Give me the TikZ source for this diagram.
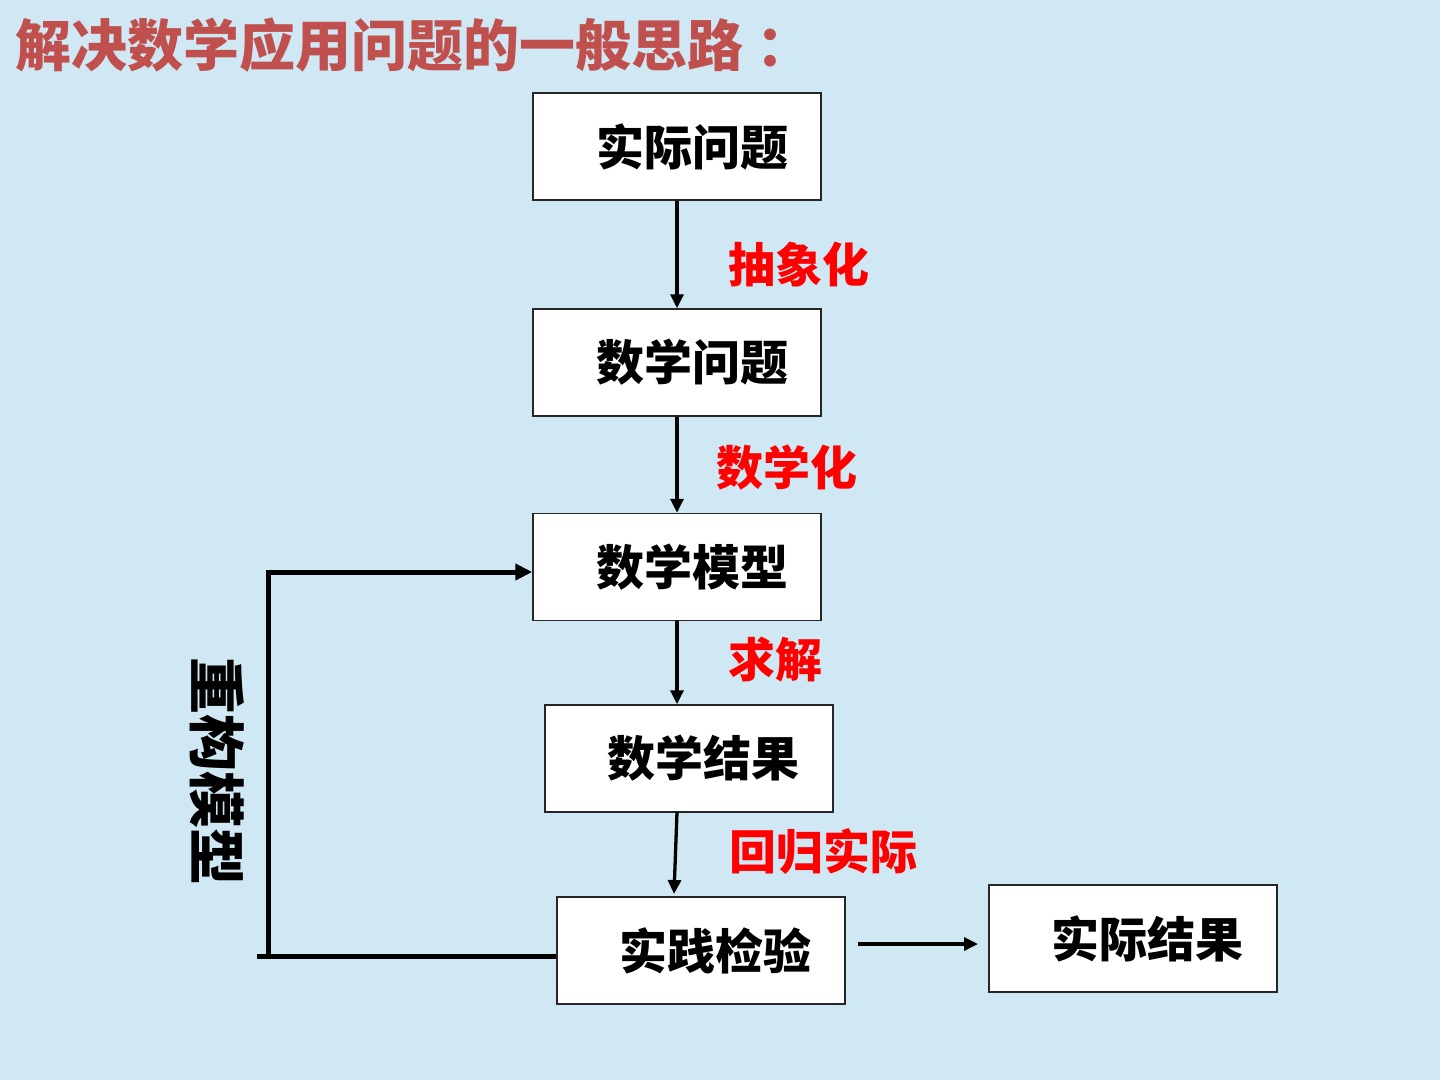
\documentclass[tikz,border=0pt]{standalone}
\usepackage{fontspec}
\newfontfamily\cjk{Noto Sans CJK SC}
\usetikzlibrary{arrows.meta}
\definecolor{bgblue}{RGB}{207,232,244}
\definecolor{titlered}{RGB}{192,80,77}
\definecolor{labelred}{RGB}{255,0,0}
\tikzset{
  box/.style={draw=black!85, line width=1.5pt, fill=white, minimum width=288pt, minimum height=107pt, inner sep=0pt, font=\cjk\bfseries\fontsize{48}{50}\selectfont},
  lbl/.style={text=labelred, inner sep=0pt, font=\cjk\bfseries\fontsize{47}{50}\selectfont},
  flow/.style={line width=3.3pt, -{Triangle[length=14pt,width=13pt]}},
  back/.style={line width=5pt},
}
\begin{document}
\begin{tikzpicture}[x=1pt,y=-1pt]
\fill[bgblue] (0,0) rectangle (1440,1080);
\useasboundingbox (0,0) rectangle (1440,1080);
\node[anchor=west, inner sep=0pt, text=titlered, font=\cjk\bfseries\fontsize{56}{58}\selectfont] (title) at (15,45) {解决数学应用问题的一般思路\hspace*{13pt}：};
\node[box] (a) at (677,146.5) {\hspace*{30pt}实际问题};
\node[box] (b) at (677,362.5) {\hspace*{30pt}数学问题};
\node[box] (c) at (677,567) {\hspace*{30pt}数学模型};
\node[box] (d) at (689,758.5) {\hspace*{28pt}数学结果};
\node[box] (e) at (701,950.5) {\hspace*{28pt}实践检验};
\node[box] (f) at (1133,938.5) {\hspace*{28pt}实际结果};
\node[lbl] (l1) at (799,265) {抽象化};
\node[lbl] (l2) at (787,468) {数学化};
\node[lbl] (l3) at (775,660) {求解};
\node[lbl] (l4) at (823,852) {回归实际};
\node[inner sep=0pt, rotate=-90, font=\cjk\bfseries\fontsize{57}{59}\selectfont] (rv) at (217,771) {重构模型};
\draw[flow] (a.south) -- (b.north);
\draw[flow] (b.south) -- (c.north);
\draw[flow] (c.south) -- (c.south |- d.north);
\coordinate (dtop) at (677,812);
\coordinate (dend) at (674,894);
\draw[flow] (dtop) -- (dend);
\coordinate (es) at (858,944);
\coordinate (fe) at (978,944);
\draw[flow] (es) -- (fe);
\coordinate (bl) at (257,956);
\coordinate (tl) at (268,572);
\draw[back] (e.west |- bl) -- (bl);
\draw[back] (268,958) -- (268,570);
\draw[back, -{Triangle[length=17pt,width=16pt]}] (265.5,572) -- (c.west |- tl);
\end{tikzpicture}
\end{document}
